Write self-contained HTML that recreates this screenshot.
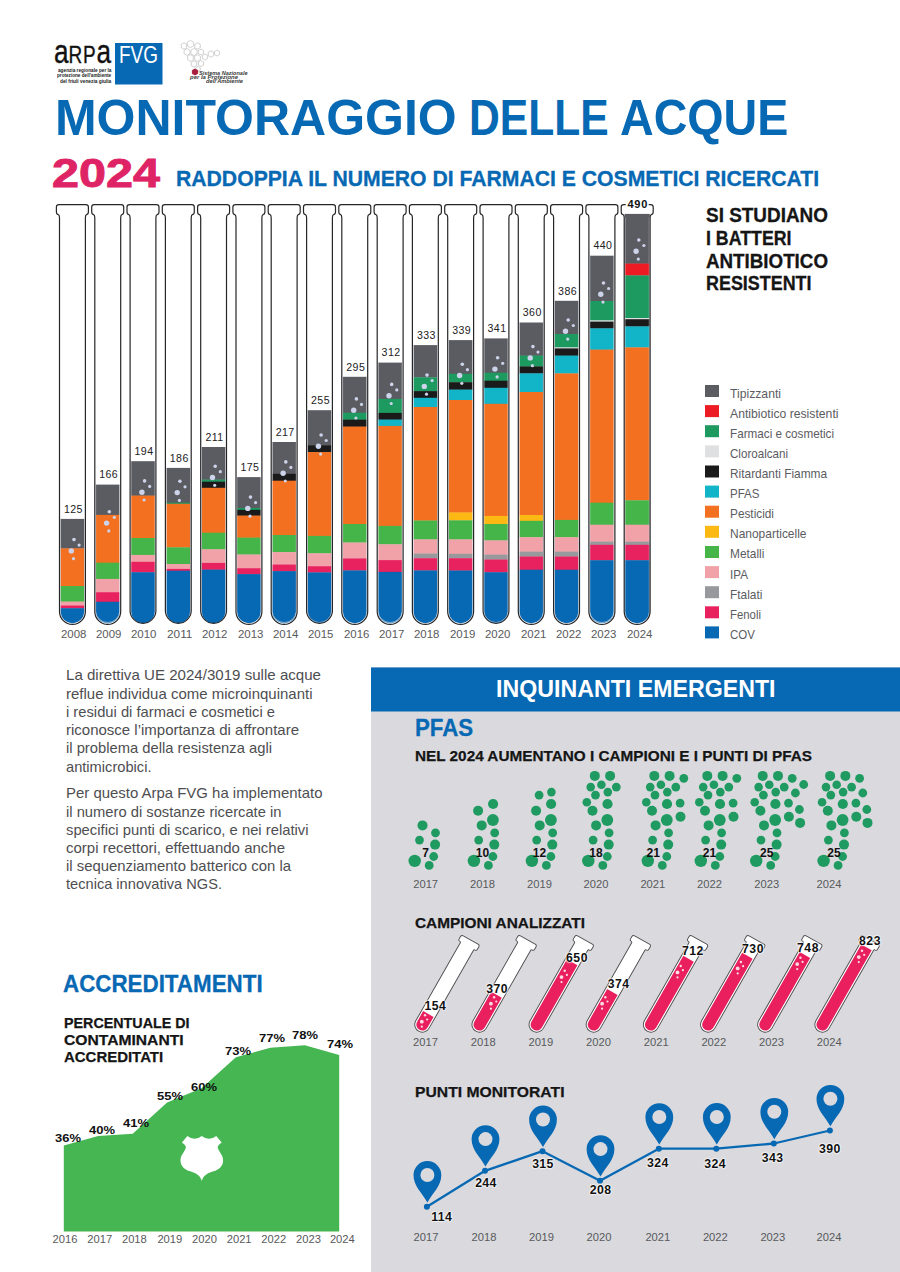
<!DOCTYPE html>
<html lang="it"><head><meta charset="utf-8"><title>Monitoraggio delle acque 2024</title>
<style>html,body{margin:0;padding:0;background:#fff}body{width:900px;height:1272px;position:relative;overflow:hidden;font-family:"Liberation Sans",sans-serif}#art{position:absolute;left:0;top:0}.t{position:absolute;white-space:nowrap;line-height:1;transform-origin:0 50%}.g{text-shadow:0 0 1.5px #fff,0 0 1.5px #fff,0 0 2px #fff,0 0 2.5px #fff}</style></head><body>
<svg id="art" width="900" height="1272" viewBox="0 0 900 1272">
<rect x="115" y="43" width="47.5" height="41.5" fill="#0768b3"/>
<polygon points="186.8,47.6 184.0,49.2 181.2,47.6 181.2,44.4 184.0,42.8 186.8,44.4" fill="none" stroke="#b4b4b4" stroke-width="0.6"/>
<polygon points="193.6,45.8 190.5,47.6 187.4,45.8 187.4,42.2 190.5,40.4 193.6,42.2" fill="none" stroke="#b4b4b4" stroke-width="0.6"/>
<polygon points="200.3,47.6 197.5,49.2 194.7,47.6 194.7,44.4 197.5,42.8 200.3,44.4" fill="none" stroke="#b4b4b4" stroke-width="0.6"/>
<polygon points="189.9,53.7 187.0,55.4 184.1,53.7 184.1,50.3 187.0,48.6 189.9,50.3" fill="none" stroke="#b4b4b4" stroke-width="0.6"/>
<polygon points="197.1,53.8 194.0,55.6 190.9,53.8 190.9,50.2 194.0,48.4 197.1,50.2" fill="none" stroke="#b4b4b4" stroke-width="0.6"/>
<polygon points="203.6,53.5 201.0,55.0 198.4,53.5 198.4,50.5 201.0,49.0 203.6,50.5" fill="none" stroke="#b4b4b4" stroke-width="0.6"/>
<polygon points="193.4,59.7 190.5,61.4 187.6,59.7 187.6,56.3 190.5,54.6 193.4,56.3" fill="none" stroke="#b4b4b4" stroke-width="0.6"/>
<polygon points="200.4,59.7 197.5,61.4 194.6,59.7 194.6,56.3 197.5,54.6 200.4,56.3" fill="none" stroke="#b4b4b4" stroke-width="0.6"/>
<polygon points="207.6,58.5 205.0,60.0 202.4,58.5 202.4,55.5 205.0,54.0 207.6,55.5" fill="none" stroke="#b4b4b4" stroke-width="0.6"/>
<polygon points="213.8,55.6 211.0,57.2 208.2,55.6 208.2,52.4 211.0,50.8 213.8,52.4" fill="none" stroke="#b4b4b4" stroke-width="0.6"/>
<polygon points="219.6,54.5 217.0,56.0 214.4,54.5 214.4,51.5 217.0,50.0 219.6,51.5" fill="none" stroke="#b4b4b4" stroke-width="0.6"/>
<polygon points="196.8,65.6 194.0,67.2 191.2,65.6 191.2,62.4 194.0,60.8 196.8,62.4" fill="none" stroke="#b4b4b4" stroke-width="0.6"/>
<polygon points="203.6,65.0 201.0,66.5 198.4,65.0 198.4,62.0 201.0,60.5 203.6,62.0" fill="none" stroke="#b4b4b4" stroke-width="0.6"/>
<polygon points="200.3,70.3 198.0,71.6 195.7,70.3 195.7,67.7 198.0,66.4 200.3,67.7" fill="none" stroke="#b4b4b4" stroke-width="0.6"/>
<polygon points="197.9,73.7 195.0,75.3 192.1,73.7 192.1,70.3 195.0,68.7 197.9,70.3" fill="#a81c3c" stroke="#a81c3c" stroke-width="0.3"/>
<defs>
<clipPath id="tc0"><path d="M60.5 200 V611.4 A11.9 11.9 0 0 0 84.3 611.4 V200 Z"/></clipPath>
<clipPath id="tc1"><path d="M95.8 200 V611.4 A11.9 11.9 0 0 0 119.6 611.4 V200 Z"/></clipPath>
<clipPath id="tc2"><path d="M131.1 200 V611.4 A11.9 11.9 0 0 0 154.9 611.4 V200 Z"/></clipPath>
<clipPath id="tc3"><path d="M166.4 200 V611.4 A11.9 11.9 0 0 0 190.2 611.4 V200 Z"/></clipPath>
<clipPath id="tc4"><path d="M201.7 200 V611.4 A11.9 11.9 0 0 0 225.5 611.4 V200 Z"/></clipPath>
<clipPath id="tc5"><path d="M237.0 200 V611.4 A11.9 11.9 0 0 0 260.8 611.4 V200 Z"/></clipPath>
<clipPath id="tc6"><path d="M272.3 200 V611.4 A11.9 11.9 0 0 0 296.1 611.4 V200 Z"/></clipPath>
<clipPath id="tc7"><path d="M307.6 200 V611.4 A11.9 11.9 0 0 0 331.4 611.4 V200 Z"/></clipPath>
<clipPath id="tc8"><path d="M342.9 200 V611.4 A11.9 11.9 0 0 0 366.7 611.4 V200 Z"/></clipPath>
<clipPath id="tc9"><path d="M378.2 200 V611.4 A11.9 11.9 0 0 0 402.0 611.4 V200 Z"/></clipPath>
<clipPath id="tc10"><path d="M413.5 200 V611.4 A11.9 11.9 0 0 0 437.3 611.4 V200 Z"/></clipPath>
<clipPath id="tc11"><path d="M448.8 200 V611.4 A11.9 11.9 0 0 0 472.6 611.4 V200 Z"/></clipPath>
<clipPath id="tc12"><path d="M484.1 200 V611.4 A11.9 11.9 0 0 0 507.9 611.4 V200 Z"/></clipPath>
<clipPath id="tc13"><path d="M519.4 200 V611.4 A11.9 11.9 0 0 0 543.2 611.4 V200 Z"/></clipPath>
<clipPath id="tc14"><path d="M554.7 200 V611.4 A11.9 11.9 0 0 0 578.5 611.4 V200 Z"/></clipPath>
<clipPath id="tc15"><path d="M590.0 200 V611.4 A11.9 11.9 0 0 0 613.8 611.4 V200 Z"/></clipPath>
<clipPath id="tc16"><path d="M624.6 200 V610.7 A12.6 12.6 0 0 0 649.8 610.7 V200 Z"/></clipPath>
</defs>
<g clip-path="url(#tc0)">
<rect x="59.5" y="518.9" width="25.8" height="29.8" fill="#5b5c61"/>
<rect x="59.5" y="548.4" width="25.8" height="37.9" fill="#f37021"/>
<rect x="59.5" y="586.0" width="25.8" height="15.9" fill="#45b549"/>
<rect x="59.5" y="601.6" width="25.8" height="4.2" fill="#f0a2a8"/>
<rect x="59.5" y="605.5" width="25.8" height="3.0" fill="#e8215f"/>
<rect x="59.5" y="608.2" width="25.8" height="16.4" fill="#0768b3"/>
</g>
<circle cx="74.0" cy="539.6" r="1.8" fill="#cdd3ea"/>
<circle cx="79.1" cy="545.1" r="1.6" fill="#cdd3ea"/>
<circle cx="71.3" cy="550.9" r="2.7" fill="#cdd3ea"/>
<circle cx="73.5" cy="558.7" r="1.6" fill="#cdd3ea"/>
<path d="M84.6 518.9 V611.5 A12.149999999999999 12.149999999999999 0 0 1 60.3 611.5 V518.9" fill="none" stroke="#e3e5ec" stroke-width="0.6"/>
<path d="M58.9 204.6 H85.9 Q88.4 204.6 88.4 207 V211.5 Q88.4 214.2 86.9 214.4 Q85.4 214.8 85.4 217.5 V611.5 A12.95 12.95 0 0 1 59.5 611.5 V217.5 Q59.5 214.8 57.9 214.4 Q56.4 214.2 56.4 211.5 V207 Q56.4 204.6 58.9 204.6 Z" fill="none" stroke="#262628" stroke-width="1.2"/>
<g clip-path="url(#tc1)">
<rect x="94.8" y="484.6" width="25.8" height="30.6" fill="#5b5c61"/>
<rect x="94.8" y="514.9" width="25.8" height="48.1" fill="#f37021"/>
<rect x="94.8" y="562.7" width="25.8" height="16.5" fill="#45b549"/>
<rect x="94.8" y="578.9" width="25.8" height="13.6" fill="#f0a2a8"/>
<rect x="94.8" y="592.2" width="25.8" height="9.9" fill="#e8215f"/>
<rect x="94.8" y="601.8" width="25.8" height="22.8" fill="#0768b3"/>
</g>
<circle cx="109.3" cy="511.8" r="1.8" fill="#cdd3ea"/>
<circle cx="114.4" cy="517.3" r="1.6" fill="#cdd3ea"/>
<circle cx="106.6" cy="523.1" r="2.7" fill="#cdd3ea"/>
<circle cx="108.8" cy="530.9" r="1.6" fill="#cdd3ea"/>
<path d="M119.8 484.6 V611.5 A12.149999999999999 12.149999999999999 0 0 1 95.6 611.5 V484.6" fill="none" stroke="#e3e5ec" stroke-width="0.6"/>
<path d="M94.2 204.6 H121.2 Q123.7 204.6 123.7 207 V211.5 Q123.7 214.2 122.2 214.4 Q120.7 214.8 120.7 217.5 V611.5 A12.95 12.95 0 0 1 94.8 611.5 V217.5 Q94.8 214.8 93.2 214.4 Q91.7 214.2 91.7 211.5 V207 Q91.7 204.6 94.2 204.6 Z" fill="none" stroke="#262628" stroke-width="1.2"/>
<g clip-path="url(#tc2)">
<rect x="130.1" y="461.2" width="25.8" height="34.7" fill="#5b5c61"/>
<rect x="130.1" y="495.6" width="25.8" height="42.7" fill="#f37021"/>
<rect x="130.1" y="538.0" width="25.8" height="17.2" fill="#45b549"/>
<rect x="130.1" y="554.9" width="25.8" height="7.2" fill="#f0a2a8"/>
<rect x="130.1" y="561.8" width="25.8" height="10.7" fill="#e8215f"/>
<rect x="130.1" y="572.2" width="25.8" height="52.4" fill="#0768b3"/>
</g>
<circle cx="144.6" cy="480.9" r="1.8" fill="#cdd3ea"/>
<circle cx="149.7" cy="486.4" r="1.6" fill="#cdd3ea"/>
<circle cx="141.9" cy="492.2" r="2.7" fill="#cdd3ea"/>
<circle cx="144.1" cy="500.0" r="1.6" fill="#cdd3ea"/>
<path d="M155.2 461.2 V611.5 A12.149999999999999 12.149999999999999 0 0 1 130.8 611.5 V461.2" fill="none" stroke="#e3e5ec" stroke-width="0.6"/>
<path d="M129.5 204.6 H156.5 Q159.0 204.6 159.0 207 V211.5 Q159.0 214.2 157.5 214.4 Q155.9 214.8 155.9 217.5 V611.5 A12.95 12.95 0 0 1 130.1 611.5 V217.5 Q130.1 214.8 128.5 214.4 Q127.0 214.2 127.0 211.5 V207 Q127.0 204.6 129.5 204.6 Z" fill="none" stroke="#262628" stroke-width="1.2"/>
<g clip-path="url(#tc3)">
<rect x="165.4" y="467.9" width="25.8" height="35.1" fill="#5b5c61"/>
<rect x="165.4" y="502.7" width="25.8" height="1.4" fill="#1d9a60"/>
<rect x="165.4" y="503.8" width="25.8" height="43.8" fill="#f37021"/>
<rect x="165.4" y="547.3" width="25.8" height="17.0" fill="#45b549"/>
<rect x="165.4" y="564.0" width="25.8" height="5.2" fill="#f0a2a8"/>
<rect x="165.4" y="568.9" width="25.8" height="2.1" fill="#e8215f"/>
<rect x="165.4" y="570.7" width="25.8" height="53.9" fill="#0768b3"/>
</g>
<circle cx="179.9" cy="481.3" r="1.8" fill="#cdd3ea"/>
<circle cx="185.0" cy="486.8" r="1.6" fill="#cdd3ea"/>
<circle cx="177.2" cy="492.6" r="2.7" fill="#cdd3ea"/>
<circle cx="179.4" cy="500.4" r="1.6" fill="#cdd3ea"/>
<path d="M190.5 467.9 V611.5 A12.149999999999999 12.149999999999999 0 0 1 166.2 611.5 V467.9" fill="none" stroke="#e3e5ec" stroke-width="0.6"/>
<path d="M164.8 204.6 H191.8 Q194.3 204.6 194.3 207 V211.5 Q194.3 214.2 192.8 214.4 Q191.2 214.8 191.2 217.5 V611.5 A12.95 12.95 0 0 1 165.4 611.5 V217.5 Q165.4 214.8 163.8 214.4 Q162.3 214.2 162.3 211.5 V207 Q162.3 204.6 164.8 204.6 Z" fill="none" stroke="#262628" stroke-width="1.2"/>
<g clip-path="url(#tc4)">
<rect x="200.7" y="447.0" width="25.8" height="32.9" fill="#5b5c61"/>
<rect x="200.7" y="479.6" width="25.8" height="2.3" fill="#1d9a60"/>
<rect x="200.7" y="481.6" width="25.8" height="6.5" fill="#1a1a1a"/>
<rect x="200.7" y="487.8" width="25.8" height="45.2" fill="#f37021"/>
<rect x="200.7" y="532.7" width="25.8" height="16.9" fill="#45b549"/>
<rect x="200.7" y="549.3" width="25.8" height="13.9" fill="#f0a2a8"/>
<rect x="200.7" y="562.9" width="25.8" height="7.0" fill="#e8215f"/>
<rect x="200.7" y="569.6" width="25.8" height="55.0" fill="#0768b3"/>
</g>
<circle cx="215.2" cy="466.2" r="1.8" fill="#cdd3ea"/>
<circle cx="220.3" cy="471.7" r="1.6" fill="#cdd3ea"/>
<circle cx="212.5" cy="477.5" r="2.7" fill="#cdd3ea"/>
<circle cx="214.7" cy="485.3" r="1.6" fill="#cdd3ea"/>
<path d="M225.8 447.0 V611.5 A12.149999999999999 12.149999999999999 0 0 1 201.4 611.5 V447.0" fill="none" stroke="#e3e5ec" stroke-width="0.6"/>
<path d="M200.1 204.6 H227.1 Q229.6 204.6 229.6 207 V211.5 Q229.6 214.2 228.1 214.4 Q226.5 214.8 226.5 217.5 V611.5 A12.95 12.95 0 0 1 200.7 611.5 V217.5 Q200.7 214.8 199.1 214.4 Q197.6 214.2 197.6 211.5 V207 Q197.6 204.6 200.1 204.6 Z" fill="none" stroke="#262628" stroke-width="1.2"/>
<g clip-path="url(#tc5)">
<rect x="236.0" y="477.1" width="25.8" height="31.2" fill="#5b5c61"/>
<rect x="236.0" y="508.0" width="25.8" height="2.1" fill="#1d9a60"/>
<rect x="236.0" y="509.8" width="25.8" height="6.1" fill="#1a1a1a"/>
<rect x="236.0" y="515.6" width="25.8" height="22.3" fill="#f37021"/>
<rect x="236.0" y="537.6" width="25.8" height="17.2" fill="#45b549"/>
<rect x="236.0" y="554.5" width="25.8" height="14.0" fill="#f0a2a8"/>
<rect x="236.0" y="568.2" width="25.8" height="6.2" fill="#e8215f"/>
<rect x="236.0" y="574.1" width="25.8" height="50.5" fill="#0768b3"/>
</g>
<circle cx="250.5" cy="497.1" r="1.8" fill="#cdd3ea"/>
<circle cx="255.6" cy="502.6" r="1.6" fill="#cdd3ea"/>
<circle cx="247.8" cy="508.4" r="2.7" fill="#cdd3ea"/>
<circle cx="250.0" cy="516.2" r="1.6" fill="#cdd3ea"/>
<path d="M261.1 477.1 V611.5 A12.149999999999999 12.149999999999999 0 0 1 236.8 611.5 V477.1" fill="none" stroke="#e3e5ec" stroke-width="0.6"/>
<path d="M235.4 204.6 H262.4 Q264.9 204.6 264.9 207 V211.5 Q264.9 214.2 263.4 214.4 Q261.9 214.8 261.9 217.5 V611.5 A12.95 12.95 0 0 1 236.0 611.5 V217.5 Q236.0 214.8 234.4 214.4 Q232.9 214.2 232.9 211.5 V207 Q232.9 204.6 235.4 204.6 Z" fill="none" stroke="#262628" stroke-width="1.2"/>
<g clip-path="url(#tc6)">
<rect x="271.3" y="442.0" width="25.8" height="32.1" fill="#5b5c61"/>
<rect x="271.3" y="473.8" width="25.8" height="7.2" fill="#1a1a1a"/>
<rect x="271.3" y="480.7" width="25.8" height="54.6" fill="#f37021"/>
<rect x="271.3" y="535.0" width="25.8" height="17.4" fill="#45b549"/>
<rect x="271.3" y="552.1" width="25.8" height="12.7" fill="#f0a2a8"/>
<rect x="271.3" y="564.5" width="25.8" height="6.9" fill="#e8215f"/>
<rect x="271.3" y="571.1" width="25.8" height="53.5" fill="#0768b3"/>
</g>
<circle cx="285.8" cy="461.9" r="1.8" fill="#cdd3ea"/>
<circle cx="290.9" cy="467.4" r="1.6" fill="#cdd3ea"/>
<circle cx="283.1" cy="473.2" r="2.7" fill="#cdd3ea"/>
<circle cx="285.3" cy="481.0" r="1.6" fill="#cdd3ea"/>
<path d="M296.3 442.0 V611.5 A12.149999999999999 12.149999999999999 0 0 1 272.1 611.5 V442.0" fill="none" stroke="#e3e5ec" stroke-width="0.6"/>
<path d="M270.7 204.6 H297.7 Q300.2 204.6 300.2 207 V211.5 Q300.2 214.2 298.7 214.4 Q297.1 214.8 297.1 217.5 V611.5 A12.95 12.95 0 0 1 271.2 611.5 V217.5 Q271.2 214.8 269.7 214.4 Q268.2 214.2 268.2 211.5 V207 Q268.2 204.6 270.7 204.6 Z" fill="none" stroke="#262628" stroke-width="1.2"/>
<g clip-path="url(#tc7)">
<rect x="306.6" y="410.2" width="25.8" height="35.3" fill="#5b5c61"/>
<rect x="306.6" y="445.2" width="25.8" height="7.2" fill="#1a1a1a"/>
<rect x="306.6" y="452.1" width="25.8" height="84.1" fill="#f37021"/>
<rect x="306.6" y="535.9" width="25.8" height="17.7" fill="#45b549"/>
<rect x="306.6" y="553.3" width="25.8" height="13.2" fill="#f0a2a8"/>
<rect x="306.6" y="566.2" width="25.8" height="6.5" fill="#e8215f"/>
<rect x="306.6" y="572.4" width="25.8" height="52.2" fill="#0768b3"/>
</g>
<circle cx="321.1" cy="435.0" r="1.8" fill="#cdd3ea"/>
<circle cx="326.2" cy="440.5" r="1.6" fill="#cdd3ea"/>
<circle cx="318.4" cy="446.3" r="2.7" fill="#cdd3ea"/>
<circle cx="320.6" cy="454.1" r="1.6" fill="#cdd3ea"/>
<path d="M331.6 410.2 V611.5 A12.149999999999999 12.149999999999999 0 0 1 307.4 611.5 V410.2" fill="none" stroke="#e3e5ec" stroke-width="0.6"/>
<path d="M306.0 204.6 H333.0 Q335.5 204.6 335.5 207 V211.5 Q335.5 214.2 334.0 214.4 Q332.4 214.8 332.4 217.5 V611.5 A12.95 12.95 0 0 1 306.6 611.5 V217.5 Q306.6 214.8 305.0 214.4 Q303.5 214.2 303.5 211.5 V207 Q303.5 204.6 306.0 204.6 Z" fill="none" stroke="#262628" stroke-width="1.2"/>
<g clip-path="url(#tc8)">
<rect x="341.9" y="376.8" width="25.8" height="36.2" fill="#5b5c61"/>
<rect x="341.9" y="412.7" width="25.8" height="7.2" fill="#1d9a60"/>
<rect x="341.9" y="419.6" width="25.8" height="7.3" fill="#1a1a1a"/>
<rect x="341.9" y="426.6" width="25.8" height="97.7" fill="#f37021"/>
<rect x="341.9" y="524.0" width="25.8" height="18.8" fill="#45b549"/>
<rect x="341.9" y="542.5" width="25.8" height="16.2" fill="#f0a2a8"/>
<rect x="341.9" y="558.4" width="25.8" height="12.3" fill="#e8215f"/>
<rect x="341.9" y="570.4" width="25.8" height="54.2" fill="#0768b3"/>
</g>
<circle cx="356.4" cy="398.9" r="1.8" fill="#cdd3ea"/>
<circle cx="361.5" cy="404.4" r="1.6" fill="#cdd3ea"/>
<circle cx="353.7" cy="410.2" r="2.7" fill="#cdd3ea"/>
<circle cx="355.9" cy="418.0" r="1.6" fill="#cdd3ea"/>
<path d="M366.9 376.8 V611.5 A12.149999999999999 12.149999999999999 0 0 1 342.6 611.5 V376.8" fill="none" stroke="#e3e5ec" stroke-width="0.6"/>
<path d="M341.3 204.6 H368.3 Q370.8 204.6 370.8 207 V211.5 Q370.8 214.2 369.3 214.4 Q367.7 214.8 367.7 217.5 V611.5 A12.95 12.95 0 0 1 341.8 611.5 V217.5 Q341.8 214.8 340.3 214.4 Q338.8 214.2 338.8 211.5 V207 Q338.8 204.6 341.3 204.6 Z" fill="none" stroke="#262628" stroke-width="1.2"/>
<g clip-path="url(#tc9)">
<rect x="377.2" y="362.6" width="25.8" height="36.6" fill="#5b5c61"/>
<rect x="377.2" y="398.9" width="25.8" height="14.3" fill="#1d9a60"/>
<rect x="377.2" y="412.9" width="25.8" height="7.0" fill="#1a1a1a"/>
<rect x="377.2" y="419.6" width="25.8" height="6.6" fill="#12b4c8"/>
<rect x="377.2" y="425.9" width="25.8" height="100.3" fill="#f37021"/>
<rect x="377.2" y="525.9" width="25.8" height="18.7" fill="#45b549"/>
<rect x="377.2" y="544.3" width="25.8" height="16.1" fill="#f0a2a8"/>
<rect x="377.2" y="560.1" width="25.8" height="12.1" fill="#e8215f"/>
<rect x="377.2" y="571.9" width="25.8" height="52.7" fill="#0768b3"/>
</g>
<circle cx="391.7" cy="384.4" r="1.8" fill="#cdd3ea"/>
<circle cx="396.8" cy="389.9" r="1.6" fill="#cdd3ea"/>
<circle cx="389.0" cy="395.7" r="2.7" fill="#cdd3ea"/>
<circle cx="391.2" cy="403.5" r="1.6" fill="#cdd3ea"/>
<path d="M402.2 362.6 V611.5 A12.149999999999999 12.149999999999999 0 0 1 378.0 611.5 V362.6" fill="none" stroke="#e3e5ec" stroke-width="0.6"/>
<path d="M376.6 204.6 H403.6 Q406.1 204.6 406.1 207 V211.5 Q406.1 214.2 404.6 214.4 Q403.1 214.8 403.1 217.5 V611.5 A12.95 12.95 0 0 1 377.2 611.5 V217.5 Q377.2 214.8 375.6 214.4 Q374.1 214.2 374.1 211.5 V207 Q374.1 204.6 376.6 204.6 Z" fill="none" stroke="#262628" stroke-width="1.2"/>
<g clip-path="url(#tc10)">
<rect x="412.5" y="345.1" width="25.8" height="32.5" fill="#5b5c61"/>
<rect x="412.5" y="377.3" width="25.8" height="14.1" fill="#1d9a60"/>
<rect x="412.5" y="391.1" width="25.8" height="7.0" fill="#1a1a1a"/>
<rect x="412.5" y="397.8" width="25.8" height="9.5" fill="#12b4c8"/>
<rect x="412.5" y="407.0" width="25.8" height="113.8" fill="#f37021"/>
<rect x="412.5" y="520.5" width="25.8" height="19.2" fill="#45b549"/>
<rect x="412.5" y="539.4" width="25.8" height="14.4" fill="#f0a2a8"/>
<rect x="412.5" y="553.5" width="25.8" height="5.0" fill="#98999c"/>
<rect x="412.5" y="558.2" width="25.8" height="12.5" fill="#e8215f"/>
<rect x="412.5" y="570.4" width="25.8" height="54.2" fill="#0768b3"/>
</g>
<circle cx="427.0" cy="375.1" r="1.8" fill="#cdd3ea"/>
<circle cx="432.1" cy="380.6" r="1.6" fill="#cdd3ea"/>
<circle cx="424.3" cy="386.4" r="2.7" fill="#cdd3ea"/>
<circle cx="426.5" cy="394.2" r="1.6" fill="#cdd3ea"/>
<path d="M437.5 345.1 V611.5 A12.149999999999999 12.149999999999999 0 0 1 413.2 611.5 V345.1" fill="none" stroke="#e3e5ec" stroke-width="0.6"/>
<path d="M411.9 204.6 H438.9 Q441.4 204.6 441.4 207 V211.5 Q441.4 214.2 439.9 214.4 Q438.3 214.8 438.3 217.5 V611.5 A12.95 12.95 0 0 1 412.4 611.5 V217.5 Q412.4 214.8 410.9 214.4 Q409.4 214.2 409.4 211.5 V207 Q409.4 204.6 411.9 204.6 Z" fill="none" stroke="#262628" stroke-width="1.2"/>
<g clip-path="url(#tc11)">
<rect x="447.8" y="340.1" width="25.8" height="34.0" fill="#5b5c61"/>
<rect x="447.8" y="373.8" width="25.8" height="8.7" fill="#1d9a60"/>
<rect x="447.8" y="382.2" width="25.8" height="7.7" fill="#1a1a1a"/>
<rect x="447.8" y="389.6" width="25.8" height="10.7" fill="#12b4c8"/>
<rect x="447.8" y="400.0" width="25.8" height="112.8" fill="#f37021"/>
<rect x="447.8" y="512.5" width="25.8" height="8.1" fill="#fdb913"/>
<rect x="447.8" y="520.3" width="25.8" height="19.4" fill="#45b549"/>
<rect x="447.8" y="539.4" width="25.8" height="14.7" fill="#f0a2a8"/>
<rect x="447.8" y="553.8" width="25.8" height="4.7" fill="#98999c"/>
<rect x="447.8" y="558.2" width="25.8" height="12.6" fill="#e8215f"/>
<rect x="447.8" y="570.5" width="25.8" height="54.1" fill="#0768b3"/>
</g>
<circle cx="462.3" cy="364.2" r="1.8" fill="#cdd3ea"/>
<circle cx="467.4" cy="369.7" r="1.6" fill="#cdd3ea"/>
<circle cx="459.6" cy="375.5" r="2.7" fill="#cdd3ea"/>
<circle cx="461.8" cy="383.3" r="1.6" fill="#cdd3ea"/>
<path d="M472.8 340.1 V611.5 A12.149999999999999 12.149999999999999 0 0 1 448.5 611.5 V340.1" fill="none" stroke="#e3e5ec" stroke-width="0.6"/>
<path d="M447.2 204.6 H474.2 Q476.7 204.6 476.7 207 V211.5 Q476.7 214.2 475.2 214.4 Q473.6 214.8 473.6 217.5 V611.5 A12.95 12.95 0 0 1 447.7 611.5 V217.5 Q447.7 214.8 446.2 214.4 Q444.7 214.2 444.7 211.5 V207 Q444.7 204.6 447.2 204.6 Z" fill="none" stroke="#262628" stroke-width="1.2"/>
<g clip-path="url(#tc12)">
<rect x="483.1" y="338.4" width="25.8" height="34.6" fill="#5b5c61"/>
<rect x="483.1" y="372.7" width="25.8" height="8.3" fill="#1d9a60"/>
<rect x="483.1" y="380.7" width="25.8" height="7.4" fill="#1a1a1a"/>
<rect x="483.1" y="387.8" width="25.8" height="16.3" fill="#12b4c8"/>
<rect x="483.1" y="403.8" width="25.8" height="112.4" fill="#f37021"/>
<rect x="483.1" y="515.9" width="25.8" height="8.4" fill="#fdb913"/>
<rect x="483.1" y="524.0" width="25.8" height="16.7" fill="#45b549"/>
<rect x="483.1" y="540.4" width="25.8" height="14.5" fill="#f0a2a8"/>
<rect x="483.1" y="554.6" width="25.8" height="5.2" fill="#98999c"/>
<rect x="483.1" y="559.5" width="25.8" height="13.0" fill="#e8215f"/>
<rect x="483.1" y="572.2" width="25.8" height="52.4" fill="#0768b3"/>
</g>
<circle cx="497.6" cy="357.8" r="1.8" fill="#cdd3ea"/>
<circle cx="502.7" cy="363.3" r="1.6" fill="#cdd3ea"/>
<circle cx="494.9" cy="369.1" r="2.7" fill="#cdd3ea"/>
<circle cx="497.1" cy="376.9" r="1.6" fill="#cdd3ea"/>
<path d="M508.1 338.4 V611.5 A12.149999999999999 12.149999999999999 0 0 1 483.9 611.5 V338.4" fill="none" stroke="#e3e5ec" stroke-width="0.6"/>
<path d="M482.5 204.6 H509.5 Q512.0 204.6 512.0 207 V211.5 Q512.0 214.2 510.5 214.4 Q508.9 214.8 508.9 217.5 V611.5 A12.95 12.95 0 0 1 483.1 611.5 V217.5 Q483.1 214.8 481.5 214.4 Q480.0 214.2 480.0 211.5 V207 Q480.0 204.6 482.5 204.6 Z" fill="none" stroke="#262628" stroke-width="1.2"/>
<g clip-path="url(#tc13)">
<rect x="518.4" y="322.5" width="25.8" height="33.4" fill="#5b5c61"/>
<rect x="518.4" y="355.6" width="25.8" height="11.1" fill="#1d9a60"/>
<rect x="518.4" y="366.4" width="25.8" height="7.3" fill="#1a1a1a"/>
<rect x="518.4" y="373.4" width="25.8" height="18.9" fill="#12b4c8"/>
<rect x="518.4" y="392.0" width="25.8" height="123.3" fill="#f37021"/>
<rect x="518.4" y="515.0" width="25.8" height="6.1" fill="#fdb913"/>
<rect x="518.4" y="520.8" width="25.8" height="16.7" fill="#45b549"/>
<rect x="518.4" y="537.2" width="25.8" height="14.7" fill="#f0a2a8"/>
<rect x="518.4" y="551.6" width="25.8" height="5.2" fill="#98999c"/>
<rect x="518.4" y="556.5" width="25.8" height="13.5" fill="#e8215f"/>
<rect x="518.4" y="569.7" width="25.8" height="54.9" fill="#0768b3"/>
</g>
<circle cx="532.9" cy="346.6" r="1.8" fill="#cdd3ea"/>
<circle cx="538.0" cy="352.1" r="1.6" fill="#cdd3ea"/>
<circle cx="530.2" cy="357.9" r="2.7" fill="#cdd3ea"/>
<circle cx="532.4" cy="365.7" r="1.6" fill="#cdd3ea"/>
<path d="M543.4 322.5 V611.5 A12.149999999999999 12.149999999999999 0 0 1 519.1 611.5 V322.5" fill="none" stroke="#e3e5ec" stroke-width="0.6"/>
<path d="M517.8 204.6 H544.8 Q547.3 204.6 547.3 207 V211.5 Q547.3 214.2 545.8 214.4 Q544.2 214.8 544.2 217.5 V611.5 A12.95 12.95 0 0 1 518.3 611.5 V217.5 Q518.3 214.8 516.8 214.4 Q515.3 214.2 515.3 211.5 V207 Q515.3 204.6 517.8 204.6 Z" fill="none" stroke="#262628" stroke-width="1.2"/>
<g clip-path="url(#tc14)">
<rect x="553.7" y="300.8" width="25.8" height="33.5" fill="#5b5c61"/>
<rect x="553.7" y="334.0" width="25.8" height="13.7" fill="#1d9a60"/>
<rect x="553.7" y="347.4" width="25.8" height="1.3" fill="#dfe0e1"/>
<rect x="553.7" y="348.4" width="25.8" height="7.5" fill="#1a1a1a"/>
<rect x="553.7" y="355.6" width="25.8" height="18.1" fill="#12b4c8"/>
<rect x="553.7" y="373.4" width="25.8" height="146.8" fill="#f37021"/>
<rect x="553.7" y="519.9" width="25.8" height="17.6" fill="#45b549"/>
<rect x="553.7" y="537.2" width="25.8" height="14.7" fill="#f0a2a8"/>
<rect x="553.7" y="551.6" width="25.8" height="5.2" fill="#98999c"/>
<rect x="553.7" y="556.5" width="25.8" height="13.5" fill="#e8215f"/>
<rect x="553.7" y="569.7" width="25.8" height="54.9" fill="#0768b3"/>
</g>
<circle cx="568.2" cy="320.0" r="1.8" fill="#cdd3ea"/>
<circle cx="573.3" cy="325.5" r="1.6" fill="#cdd3ea"/>
<circle cx="565.5" cy="331.3" r="2.7" fill="#cdd3ea"/>
<circle cx="567.7" cy="339.1" r="1.6" fill="#cdd3ea"/>
<path d="M578.7 300.8 V611.5 A12.149999999999999 12.149999999999999 0 0 1 554.4 611.5 V300.8" fill="none" stroke="#e3e5ec" stroke-width="0.6"/>
<path d="M553.1 204.6 H580.1 Q582.6 204.6 582.6 207 V211.5 Q582.6 214.2 581.1 214.4 Q579.5 214.8 579.5 217.5 V611.5 A12.95 12.95 0 0 1 553.6 611.5 V217.5 Q553.6 214.8 552.1 214.4 Q550.6 214.2 550.6 211.5 V207 Q550.6 204.6 553.1 204.6 Z" fill="none" stroke="#262628" stroke-width="1.2"/>
<g clip-path="url(#tc15)">
<rect x="589.0" y="255.7" width="25.8" height="45.6" fill="#5b5c61"/>
<rect x="589.0" y="301.0" width="25.8" height="19.7" fill="#1d9a60"/>
<rect x="589.0" y="320.4" width="25.8" height="1.5" fill="#dfe0e1"/>
<rect x="589.0" y="321.6" width="25.8" height="7.1" fill="#1a1a1a"/>
<rect x="589.0" y="328.4" width="25.8" height="21.5" fill="#12b4c8"/>
<rect x="589.0" y="349.6" width="25.8" height="153.4" fill="#f37021"/>
<rect x="589.0" y="502.7" width="25.8" height="22.3" fill="#45b549"/>
<rect x="589.0" y="524.7" width="25.8" height="17.2" fill="#f0a2a8"/>
<rect x="589.0" y="541.6" width="25.8" height="3.5" fill="#98999c"/>
<rect x="589.0" y="544.8" width="25.8" height="15.7" fill="#e8215f"/>
<rect x="589.0" y="560.2" width="25.8" height="64.4" fill="#0768b3"/>
</g>
<circle cx="603.5" cy="283.0" r="1.8" fill="#cdd3ea"/>
<circle cx="608.6" cy="288.5" r="1.6" fill="#cdd3ea"/>
<circle cx="600.8" cy="294.3" r="2.7" fill="#cdd3ea"/>
<circle cx="603.0" cy="302.1" r="1.6" fill="#cdd3ea"/>
<path d="M614.0 255.7 V611.5 A12.149999999999999 12.149999999999999 0 0 1 589.8 611.5 V255.7" fill="none" stroke="#e3e5ec" stroke-width="0.6"/>
<path d="M588.4 204.6 H615.4 Q617.9 204.6 617.9 207 V211.5 Q617.9 214.2 616.4 214.4 Q614.9 214.8 614.9 217.5 V611.5 A12.95 12.95 0 0 1 588.9 611.5 V217.5 Q588.9 214.8 587.4 214.4 Q585.9 214.2 585.9 211.5 V207 Q585.9 204.6 588.4 204.6 Z" fill="none" stroke="#262628" stroke-width="1.2"/>
<g clip-path="url(#tc16)">
<rect x="623.6" y="213.9" width="27.2" height="50.0" fill="#5b5c61"/>
<rect x="623.6" y="263.6" width="27.2" height="12.1" fill="#ed1c24"/>
<rect x="623.6" y="275.4" width="27.2" height="42.9" fill="#1d9a60"/>
<rect x="623.6" y="318.0" width="27.2" height="1.5" fill="#dfe0e1"/>
<rect x="623.6" y="319.2" width="27.2" height="7.5" fill="#1a1a1a"/>
<rect x="623.6" y="326.4" width="27.2" height="21.3" fill="#12b4c8"/>
<rect x="623.6" y="347.4" width="27.2" height="153.2" fill="#f37021"/>
<rect x="623.6" y="500.3" width="27.2" height="24.7" fill="#45b549"/>
<rect x="623.6" y="524.7" width="27.2" height="17.2" fill="#f0a2a8"/>
<rect x="623.6" y="541.6" width="27.2" height="3.5" fill="#98999c"/>
<rect x="623.6" y="544.8" width="27.2" height="15.7" fill="#e8215f"/>
<rect x="623.6" y="560.2" width="27.2" height="64.4" fill="#0768b3"/>
</g>
<circle cx="638.8" cy="240.0" r="1.8" fill="#cdd3ea"/>
<circle cx="643.9" cy="245.5" r="1.6" fill="#cdd3ea"/>
<circle cx="636.1" cy="251.3" r="2.7" fill="#cdd3ea"/>
<circle cx="638.3" cy="259.1" r="1.6" fill="#cdd3ea"/>
<path d="M649.3 217.5 V611.5 A12.149999999999999 12.149999999999999 0 0 1 625.0 611.5 V217.5" fill="none" stroke="#e3e5ec" stroke-width="0.6"/>
<path d="M623.7 204.6 H650.7 Q653.2 204.6 653.2 207 V211.5 Q653.2 214.2 651.7 214.4 Q650.1 214.8 650.1 217.5 V611.5 A12.95 12.95 0 0 1 624.2 611.5 V217.5 Q624.2 214.8 622.7 214.4 Q621.2 214.2 621.2 211.5 V207 Q621.2 204.6 623.7 204.6 Z" fill="none" stroke="#262628" stroke-width="1.2"/>
<rect x="625.7" y="199" width="23" height="10" fill="#fff"/>
<rect x="705" y="385.0" width="14" height="12" fill="#5b5c61"/>
<rect x="705" y="405.1" width="14" height="12" fill="#ed1c24"/>
<rect x="705" y="425.2" width="14" height="12" fill="#1d9a60"/>
<rect x="705" y="445.4" width="14" height="12" fill="#dfe0e1"/>
<rect x="705" y="465.5" width="14" height="12" fill="#1a1a1a"/>
<rect x="705" y="485.6" width="14" height="12" fill="#12b4c8"/>
<rect x="705" y="505.7" width="14" height="12" fill="#f37021"/>
<rect x="705" y="525.8" width="14" height="12" fill="#fdb913"/>
<rect x="705" y="546.0" width="14" height="12" fill="#45b549"/>
<rect x="705" y="566.1" width="14" height="12" fill="#f0a2a8"/>
<rect x="705" y="586.2" width="14" height="12" fill="#98999c"/>
<rect x="705" y="606.3" width="14" height="12" fill="#e8215f"/>
<rect x="705" y="626.4" width="14" height="12" fill="#0768b3"/>
<rect x="371" y="667" width="529" height="605" fill="#d9d9de"/>
<rect x="371" y="667.5" width="529" height="44" fill="#0768b3"/>
<circle cx="414.7" cy="860.9" r="6.2" fill="#1f9b61"/>
<circle cx="429.2" cy="865.4" r="4.4" fill="#1f9b61"/>
<circle cx="433.7" cy="856.5" r="4.4" fill="#1f9b61"/>
<circle cx="435.1" cy="844.6" r="5" fill="#1f9b61"/>
<circle cx="419.5" cy="840.1" r="4.4" fill="#1f9b61"/>
<circle cx="435.5" cy="832.8" r="4.4" fill="#1f9b61"/>
<circle cx="422.5" cy="825.4" r="5" fill="#1f9b61"/>
<circle cx="473.9" cy="860.9" r="6.2" fill="#1f9b61"/>
<circle cx="488.4" cy="865.4" r="4.4" fill="#1f9b61"/>
<circle cx="492.9" cy="856.5" r="4.4" fill="#1f9b61"/>
<circle cx="494.3" cy="844.6" r="5" fill="#1f9b61"/>
<circle cx="478.7" cy="840.1" r="4.4" fill="#1f9b61"/>
<circle cx="494.7" cy="832.8" r="4.4" fill="#1f9b61"/>
<circle cx="481.7" cy="825.4" r="5" fill="#1f9b61"/>
<circle cx="492.9" cy="820.0" r="5.9" fill="#1f9b61"/>
<circle cx="478.1" cy="810.8" r="5" fill="#1f9b61"/>
<circle cx="493.1" cy="804.0" r="5.1" fill="#1f9b61"/>
<circle cx="531.9" cy="860.9" r="6.2" fill="#1f9b61"/>
<circle cx="546.4" cy="865.4" r="4.4" fill="#1f9b61"/>
<circle cx="550.9" cy="856.5" r="4.4" fill="#1f9b61"/>
<circle cx="552.3" cy="844.6" r="5" fill="#1f9b61"/>
<circle cx="536.7" cy="840.1" r="4.4" fill="#1f9b61"/>
<circle cx="552.7" cy="832.8" r="4.4" fill="#1f9b61"/>
<circle cx="539.7" cy="825.4" r="5" fill="#1f9b61"/>
<circle cx="550.9" cy="820.0" r="5.9" fill="#1f9b61"/>
<circle cx="536.1" cy="810.8" r="5" fill="#1f9b61"/>
<circle cx="551.1" cy="804.0" r="5.1" fill="#1f9b61"/>
<circle cx="539.1" cy="795.1" r="4.4" fill="#1f9b61"/>
<circle cx="551.4" cy="792.1" r="4.3" fill="#1f9b61"/>
<circle cx="588.3" cy="860.9" r="6.2" fill="#1f9b61"/>
<circle cx="602.8" cy="865.4" r="4.4" fill="#1f9b61"/>
<circle cx="607.3" cy="856.5" r="4.4" fill="#1f9b61"/>
<circle cx="608.7" cy="844.6" r="5" fill="#1f9b61"/>
<circle cx="593.1" cy="840.1" r="4.4" fill="#1f9b61"/>
<circle cx="609.1" cy="832.8" r="4.4" fill="#1f9b61"/>
<circle cx="596.1" cy="825.4" r="5" fill="#1f9b61"/>
<circle cx="607.3" cy="820.0" r="5.9" fill="#1f9b61"/>
<circle cx="592.5" cy="810.8" r="5" fill="#1f9b61"/>
<circle cx="607.5" cy="804.0" r="5.1" fill="#1f9b61"/>
<circle cx="586.8" cy="802.3" r="4.3" fill="#1f9b61"/>
<circle cx="595.5" cy="795.1" r="4.4" fill="#1f9b61"/>
<circle cx="607.8" cy="792.1" r="4.3" fill="#1f9b61"/>
<circle cx="590.7" cy="787.1" r="4.3" fill="#1f9b61"/>
<circle cx="601.4" cy="784.8" r="4.3" fill="#1f9b61"/>
<circle cx="616.3" cy="787.1" r="4.4" fill="#1f9b61"/>
<circle cx="594.8" cy="775.9" r="5" fill="#1f9b61"/>
<circle cx="610.1" cy="775.9" r="5" fill="#1f9b61"/>
<circle cx="647.8" cy="860.9" r="6.2" fill="#1f9b61"/>
<circle cx="662.3" cy="865.4" r="4.4" fill="#1f9b61"/>
<circle cx="666.8" cy="856.5" r="4.4" fill="#1f9b61"/>
<circle cx="668.2" cy="844.6" r="5" fill="#1f9b61"/>
<circle cx="652.6" cy="840.1" r="4.4" fill="#1f9b61"/>
<circle cx="668.6" cy="832.8" r="4.4" fill="#1f9b61"/>
<circle cx="655.6" cy="825.4" r="5" fill="#1f9b61"/>
<circle cx="666.8" cy="820.0" r="5.9" fill="#1f9b61"/>
<circle cx="652.0" cy="810.8" r="5" fill="#1f9b61"/>
<circle cx="667.0" cy="804.0" r="5.1" fill="#1f9b61"/>
<circle cx="646.3" cy="802.3" r="4.3" fill="#1f9b61"/>
<circle cx="655.0" cy="795.1" r="4.4" fill="#1f9b61"/>
<circle cx="667.3" cy="792.1" r="4.3" fill="#1f9b61"/>
<circle cx="650.2" cy="787.1" r="4.3" fill="#1f9b61"/>
<circle cx="660.9" cy="784.8" r="4.3" fill="#1f9b61"/>
<circle cx="675.8" cy="787.1" r="4.4" fill="#1f9b61"/>
<circle cx="654.3" cy="775.9" r="5" fill="#1f9b61"/>
<circle cx="669.6" cy="775.9" r="5" fill="#1f9b61"/>
<circle cx="683.8" cy="778.3" r="4.4" fill="#1f9b61"/>
<circle cx="680.1" cy="803.1" r="4.4" fill="#1f9b61"/>
<circle cx="680.5" cy="816.8" r="5" fill="#1f9b61"/>
<circle cx="700.8" cy="860.9" r="6.2" fill="#1f9b61"/>
<circle cx="715.3" cy="865.4" r="4.4" fill="#1f9b61"/>
<circle cx="719.8" cy="856.5" r="4.4" fill="#1f9b61"/>
<circle cx="721.2" cy="844.6" r="5" fill="#1f9b61"/>
<circle cx="705.6" cy="840.1" r="4.4" fill="#1f9b61"/>
<circle cx="721.6" cy="832.8" r="4.4" fill="#1f9b61"/>
<circle cx="708.6" cy="825.4" r="5" fill="#1f9b61"/>
<circle cx="719.8" cy="820.0" r="5.9" fill="#1f9b61"/>
<circle cx="705.0" cy="810.8" r="5" fill="#1f9b61"/>
<circle cx="720.0" cy="804.0" r="5.1" fill="#1f9b61"/>
<circle cx="699.3" cy="802.3" r="4.3" fill="#1f9b61"/>
<circle cx="708.0" cy="795.1" r="4.4" fill="#1f9b61"/>
<circle cx="720.3" cy="792.1" r="4.3" fill="#1f9b61"/>
<circle cx="703.2" cy="787.1" r="4.3" fill="#1f9b61"/>
<circle cx="713.9" cy="784.8" r="4.3" fill="#1f9b61"/>
<circle cx="728.8" cy="787.1" r="4.4" fill="#1f9b61"/>
<circle cx="707.3" cy="775.9" r="5" fill="#1f9b61"/>
<circle cx="722.6" cy="775.9" r="5" fill="#1f9b61"/>
<circle cx="736.8" cy="778.3" r="4.4" fill="#1f9b61"/>
<circle cx="733.1" cy="803.1" r="4.4" fill="#1f9b61"/>
<circle cx="733.5" cy="816.8" r="5" fill="#1f9b61"/>
<circle cx="756.2" cy="860.9" r="6.2" fill="#1f9b61"/>
<circle cx="770.7" cy="865.4" r="4.4" fill="#1f9b61"/>
<circle cx="775.2" cy="856.5" r="4.4" fill="#1f9b61"/>
<circle cx="776.6" cy="844.6" r="5" fill="#1f9b61"/>
<circle cx="761.0" cy="840.1" r="4.4" fill="#1f9b61"/>
<circle cx="777.0" cy="832.8" r="4.4" fill="#1f9b61"/>
<circle cx="764.0" cy="825.4" r="5" fill="#1f9b61"/>
<circle cx="775.2" cy="820.0" r="5.9" fill="#1f9b61"/>
<circle cx="760.4" cy="810.8" r="5" fill="#1f9b61"/>
<circle cx="775.4" cy="804.0" r="5.1" fill="#1f9b61"/>
<circle cx="754.7" cy="802.3" r="4.3" fill="#1f9b61"/>
<circle cx="763.4" cy="795.1" r="4.4" fill="#1f9b61"/>
<circle cx="775.7" cy="792.1" r="4.3" fill="#1f9b61"/>
<circle cx="758.6" cy="787.1" r="4.3" fill="#1f9b61"/>
<circle cx="769.3" cy="784.8" r="4.3" fill="#1f9b61"/>
<circle cx="784.2" cy="787.1" r="4.4" fill="#1f9b61"/>
<circle cx="762.7" cy="775.9" r="5" fill="#1f9b61"/>
<circle cx="778.0" cy="775.9" r="5" fill="#1f9b61"/>
<circle cx="792.2" cy="778.3" r="4.4" fill="#1f9b61"/>
<circle cx="795.4" cy="793.0" r="4.4" fill="#1f9b61"/>
<circle cx="788.5" cy="803.1" r="4.4" fill="#1f9b61"/>
<circle cx="799.4" cy="809.5" r="4.4" fill="#1f9b61"/>
<circle cx="788.9" cy="816.8" r="5" fill="#1f9b61"/>
<circle cx="800.1" cy="822.9" r="5" fill="#1f9b61"/>
<circle cx="803.7" cy="784.5" r="4.4" fill="#1f9b61"/>
<circle cx="823.6" cy="860.9" r="6.2" fill="#1f9b61"/>
<circle cx="838.1" cy="865.4" r="4.4" fill="#1f9b61"/>
<circle cx="842.6" cy="856.5" r="4.4" fill="#1f9b61"/>
<circle cx="844.0" cy="844.6" r="5" fill="#1f9b61"/>
<circle cx="828.4" cy="840.1" r="4.4" fill="#1f9b61"/>
<circle cx="844.4" cy="832.8" r="4.4" fill="#1f9b61"/>
<circle cx="831.4" cy="825.4" r="5" fill="#1f9b61"/>
<circle cx="842.6" cy="820.0" r="5.9" fill="#1f9b61"/>
<circle cx="827.8" cy="810.8" r="5" fill="#1f9b61"/>
<circle cx="842.8" cy="804.0" r="5.1" fill="#1f9b61"/>
<circle cx="822.1" cy="802.3" r="4.3" fill="#1f9b61"/>
<circle cx="830.8" cy="795.1" r="4.4" fill="#1f9b61"/>
<circle cx="843.1" cy="792.1" r="4.3" fill="#1f9b61"/>
<circle cx="826.0" cy="787.1" r="4.3" fill="#1f9b61"/>
<circle cx="836.7" cy="784.8" r="4.3" fill="#1f9b61"/>
<circle cx="851.6" cy="787.1" r="4.4" fill="#1f9b61"/>
<circle cx="830.1" cy="775.9" r="5" fill="#1f9b61"/>
<circle cx="845.4" cy="775.9" r="5" fill="#1f9b61"/>
<circle cx="859.6" cy="778.3" r="4.4" fill="#1f9b61"/>
<circle cx="862.8" cy="793.0" r="4.4" fill="#1f9b61"/>
<circle cx="855.9" cy="803.1" r="4.4" fill="#1f9b61"/>
<circle cx="866.8" cy="809.5" r="4.4" fill="#1f9b61"/>
<circle cx="856.3" cy="816.8" r="5" fill="#1f9b61"/>
<circle cx="867.5" cy="822.9" r="5" fill="#1f9b61"/>
<g transform="translate(418.6 1031.2) rotate(29.7)"><path d="M-7.6 -7.6 A7.6 7.6 0 0 0 7.6 -7.6 V-97.5 Q7.6 -98.5 9.0 -98.5 Q10.5 -98.5 10.5 -100.0 V-103.0 Q10.5 -105.0 8.5 -105.0 H-8.5 Q-10.5 -105.0 -10.5 -103.0 V-100.0 Q-10.5 -98.5 -9.0 -98.5 Q-7.6 -98.5 -7.6 -97.5 Z" fill="#fff" stroke="#4a4a4c" stroke-width="0.9"/><path d="M-6.0 -19.7 V-7.6 A6.0 6.0 0 0 0 6.0 -7.6 V-19.7 Z" fill="#ea1f5e"/></g>
<circle cx="425.0" cy="1015.3" r="1.2" fill="#fcdde7"/>
<circle cx="427.2" cy="1019.5" r="1.1" fill="#fcdde7"/>
<circle cx="421.8" cy="1021.7" r="1.9" fill="#fcdde7"/>
<circle cx="421.8" cy="1026.7" r="1.1" fill="#fcdde7"/>
<g transform="translate(475.8 1031.2) rotate(29.7)"><path d="M-7.6 -7.6 A7.6 7.6 0 0 0 7.6 -7.6 V-97.5 Q7.6 -98.5 9.0 -98.5 Q10.5 -98.5 10.5 -100.0 V-103.0 Q10.5 -105.0 8.5 -105.0 H-8.5 Q-10.5 -105.0 -10.5 -103.0 V-100.0 Q-10.5 -98.5 -9.0 -98.5 Q-7.6 -98.5 -7.6 -97.5 Z" fill="#fff" stroke="#4a4a4c" stroke-width="0.9"/><path d="M-6.0 -41.9 V-7.6 A6.0 6.0 0 0 0 6.0 -7.6 V-41.9 Z" fill="#ea1f5e"/></g>
<circle cx="494.1" cy="997.3" r="1.2" fill="#fcdde7"/>
<circle cx="496.3" cy="1001.5" r="1.1" fill="#fcdde7"/>
<circle cx="490.9" cy="1003.7" r="1.9" fill="#fcdde7"/>
<circle cx="490.9" cy="1008.7" r="1.1" fill="#fcdde7"/>
<g transform="translate(532.9 1031.2) rotate(29.7)"><path d="M-7.6 -7.6 A7.6 7.6 0 0 0 7.6 -7.6 V-97.5 Q7.6 -98.5 9.0 -98.5 Q10.5 -98.5 10.5 -100.0 V-103.0 Q10.5 -105.0 8.5 -105.0 H-8.5 Q-10.5 -105.0 -10.5 -103.0 V-100.0 Q-10.5 -98.5 -9.0 -98.5 Q-7.6 -98.5 -7.6 -97.5 Z" fill="#fff" stroke="#4a4a4c" stroke-width="0.9"/><path d="M-6.0 -79.3 V-7.6 A6.0 6.0 0 0 0 6.0 -7.6 V-79.3 Z" fill="#ea1f5e"/></g>
<circle cx="564.7" cy="970.7" r="1.2" fill="#fcdde7"/>
<circle cx="566.9" cy="974.9" r="1.1" fill="#fcdde7"/>
<circle cx="561.5" cy="977.1" r="1.9" fill="#fcdde7"/>
<circle cx="561.5" cy="982.1" r="1.1" fill="#fcdde7"/>
<g transform="translate(590.0 1031.2) rotate(29.7)"><path d="M-7.6 -7.6 A7.6 7.6 0 0 0 7.6 -7.6 V-97.5 Q7.6 -98.5 9.0 -98.5 Q10.5 -98.5 10.5 -100.0 V-103.0 Q10.5 -105.0 8.5 -105.0 H-8.5 Q-10.5 -105.0 -10.5 -103.0 V-100.0 Q-10.5 -98.5 -9.0 -98.5 Q-7.6 -98.5 -7.6 -97.5 Z" fill="#fff" stroke="#4a4a4c" stroke-width="0.9"/><path d="M-6.0 -45.2 V-7.6 A6.0 6.0 0 0 0 6.0 -7.6 V-45.2 Z" fill="#ea1f5e"/></g>
<circle cx="605.3" cy="997.3" r="1.2" fill="#fcdde7"/>
<circle cx="607.5" cy="1001.5" r="1.1" fill="#fcdde7"/>
<circle cx="602.1" cy="1003.7" r="1.9" fill="#fcdde7"/>
<circle cx="602.1" cy="1008.7" r="1.1" fill="#fcdde7"/>
<g transform="translate(647.2 1031.2) rotate(29.7)"><path d="M-7.6 -7.6 A7.6 7.6 0 0 0 7.6 -7.6 V-97.5 Q7.6 -98.5 9.0 -98.5 Q10.5 -98.5 10.5 -100.0 V-103.0 Q10.5 -105.0 8.5 -105.0 H-8.5 Q-10.5 -105.0 -10.5 -103.0 V-100.0 Q-10.5 -98.5 -9.0 -98.5 Q-7.6 -98.5 -7.6 -97.5 Z" fill="#fff" stroke="#4a4a4c" stroke-width="0.9"/><path d="M-6.0 -83.4 V-7.6 A6.0 6.0 0 0 0 6.0 -7.6 V-83.4 Z" fill="#ea1f5e"/></g>
<circle cx="680.7" cy="966.0" r="1.2" fill="#fcdde7"/>
<circle cx="682.9" cy="970.2" r="1.1" fill="#fcdde7"/>
<circle cx="677.5" cy="972.4" r="1.9" fill="#fcdde7"/>
<circle cx="677.5" cy="977.4" r="1.1" fill="#fcdde7"/>
<g transform="translate(704.4 1031.2) rotate(29.7)"><path d="M-7.6 -7.6 A7.6 7.6 0 0 0 7.6 -7.6 V-97.5 Q7.6 -98.5 9.0 -98.5 Q10.5 -98.5 10.5 -100.0 V-103.0 Q10.5 -105.0 8.5 -105.0 H-8.5 Q-10.5 -105.0 -10.5 -103.0 V-100.0 Q-10.5 -98.5 -9.0 -98.5 Q-7.6 -98.5 -7.6 -97.5 Z" fill="#fff" stroke="#4a4a4c" stroke-width="0.9"/><path d="M-6.0 -86.8 V-7.6 A6.0 6.0 0 0 0 6.0 -7.6 V-86.8 Z" fill="#ea1f5e"/></g>
<circle cx="740.9" cy="962.0" r="1.2" fill="#fcdde7"/>
<circle cx="743.1" cy="966.2" r="1.1" fill="#fcdde7"/>
<circle cx="737.7" cy="968.4" r="1.9" fill="#fcdde7"/>
<circle cx="737.7" cy="973.4" r="1.1" fill="#fcdde7"/>
<g transform="translate(761.5 1031.2) rotate(29.7)"><path d="M-7.6 -7.6 A7.6 7.6 0 0 0 7.6 -7.6 V-97.5 Q7.6 -98.5 9.0 -98.5 Q10.5 -98.5 10.5 -100.0 V-103.0 Q10.5 -105.0 8.5 -105.0 H-8.5 Q-10.5 -105.0 -10.5 -103.0 V-100.0 Q-10.5 -98.5 -9.0 -98.5 Q-7.6 -98.5 -7.6 -97.5 Z" fill="#fff" stroke="#4a4a4c" stroke-width="0.9"/><path d="M-6.0 -87.7 V-7.6 A6.0 6.0 0 0 0 6.0 -7.6 V-87.7 Z" fill="#ea1f5e"/></g>
<circle cx="800.4" cy="957.7" r="1.2" fill="#fcdde7"/>
<circle cx="802.6" cy="961.9" r="1.1" fill="#fcdde7"/>
<circle cx="797.2" cy="964.1" r="1.9" fill="#fcdde7"/>
<circle cx="797.2" cy="969.1" r="1.1" fill="#fcdde7"/>
<g transform="translate(818.7 1031.2) rotate(29.7)"><path d="M-7.6 -7.6 A7.6 7.6 0 0 0 7.6 -7.6 V-97.5 Q7.6 -98.5 9.0 -98.5 Q10.5 -98.5 10.5 -100.0 V-103.0 Q10.5 -105.0 8.5 -105.0 H-8.5 Q-10.5 -105.0 -10.5 -103.0 V-100.0 Q-10.5 -98.5 -9.0 -98.5 Q-7.6 -98.5 -7.6 -97.5 Z" fill="#fff" stroke="#4a4a4c" stroke-width="0.9"/><path d="M-6.0 -96.5 V-7.6 A6.0 6.0 0 0 0 6.0 -7.6 V-96.5 Z" fill="#ea1f5e"/></g>
<circle cx="862.0" cy="950.7" r="1.2" fill="#fcdde7"/>
<circle cx="864.2" cy="954.9" r="1.1" fill="#fcdde7"/>
<circle cx="858.8" cy="957.1" r="1.9" fill="#fcdde7"/>
<circle cx="858.8" cy="962.1" r="1.1" fill="#fcdde7"/>
<polyline points="426.9,1206.7 485.0,1170.8 542.5,1151.2 600.0,1180.8 658.8,1148.7 716.3,1148.7 773.8,1143.5 829.9,1130.5" fill="none" stroke="#0768b3" stroke-width="2.3" stroke-linejoin="round"/>
<circle cx="426.9" cy="1206.7" r="3" fill="#0768b3"/>
<path d="M427.4 1202.5 C421.9 1192.5 413.5 1186.0 413.5 1175.0 A13.9 13.9 0 0 1 441.3 1175.0 C441.3 1186.0 432.9 1192.5 427.4 1202.5 Z" fill="#0768b3"/>
<circle cx="427.4" cy="1175.0" r="7" fill="#d9d9de"/>
<circle cx="485.0" cy="1170.8" r="3" fill="#0768b3"/>
<path d="M485.5 1166.6 C480.0 1156.6 471.6 1150.1 471.6 1139.1 A13.9 13.9 0 0 1 499.4 1139.1 C499.4 1150.1 491.0 1156.6 485.5 1166.6 Z" fill="#0768b3"/>
<circle cx="485.5" cy="1139.1" r="7" fill="#d9d9de"/>
<circle cx="542.5" cy="1151.2" r="3" fill="#0768b3"/>
<path d="M543.0 1147.0 C537.5 1137.0 529.1 1130.5 529.1 1119.5 A13.9 13.9 0 0 1 556.9 1119.5 C556.9 1130.5 548.5 1137.0 543.0 1147.0 Z" fill="#0768b3"/>
<circle cx="543.0" cy="1119.5" r="7" fill="#d9d9de"/>
<circle cx="600.0" cy="1180.8" r="3" fill="#0768b3"/>
<path d="M600.5 1176.6 C595.0 1166.6 586.6 1160.1 586.6 1149.1 A13.9 13.9 0 0 1 614.4 1149.1 C614.4 1160.1 606.0 1166.6 600.5 1176.6 Z" fill="#0768b3"/>
<circle cx="600.5" cy="1149.1" r="7" fill="#d9d9de"/>
<circle cx="658.8" cy="1148.7" r="3" fill="#0768b3"/>
<path d="M659.3 1144.5 C653.8 1134.5 645.4 1128.0 645.4 1117.0 A13.9 13.9 0 0 1 673.2 1117.0 C673.2 1128.0 664.8 1134.5 659.3 1144.5 Z" fill="#0768b3"/>
<circle cx="659.3" cy="1117.0" r="7" fill="#d9d9de"/>
<circle cx="716.3" cy="1148.7" r="3" fill="#0768b3"/>
<path d="M716.8 1144.5 C711.3 1134.5 702.9 1128.0 702.9 1117.0 A13.9 13.9 0 0 1 730.7 1117.0 C730.7 1128.0 722.3 1134.5 716.8 1144.5 Z" fill="#0768b3"/>
<circle cx="716.8" cy="1117.0" r="7" fill="#d9d9de"/>
<circle cx="773.8" cy="1143.5" r="3" fill="#0768b3"/>
<path d="M774.3 1139.3 C768.8 1129.3 760.4 1122.8 760.4 1111.8 A13.9 13.9 0 0 1 788.2 1111.8 C788.2 1122.8 779.8 1129.3 774.3 1139.3 Z" fill="#0768b3"/>
<circle cx="774.3" cy="1111.8" r="7" fill="#d9d9de"/>
<circle cx="829.9" cy="1130.5" r="3" fill="#0768b3"/>
<path d="M830.4 1126.3 C824.9 1116.3 816.5 1109.8 816.5 1098.8 A13.9 13.9 0 0 1 844.3 1098.8 C844.3 1109.8 835.9 1116.3 830.4 1126.3 Z" fill="#0768b3"/>
<circle cx="830.4" cy="1098.8" r="7" fill="#d9d9de"/>
<polygon points="63.8,1231.4 63.8,1145.6 98.2,1136.0 132.7,1133.7 167.1,1102.5 201.5,1088.3 235.9,1057.2 270.4,1047.7 304.8,1045.3 339.2,1054.9 339.2,1231.4" fill="#45b651"/>
<path transform="translate(201.8 1158.4)" d="M0 22.6 C-1.5 17 -6 14.6 -11.6 12.9 C-17 11 -21.3 8 -21.3 2 C-21.3 -3 -17.5 -6 -16 -10.3 C-15.5 -12.5 -17 -13.8 -19.9 -16 L-14.4 -22.5 Q-7.2 -16.7 0 -22.5 Q7.2 -16.7 14.4 -22.5 L19.9 -16 C17 -13.8 15.5 -12.5 16 -10.3 C17.5 -6 21.3 -3 21.3 2 C21.3 8 17 11 11.6 12.9 C6 14.6 1.5 17 0 22.6 Z" fill="#fff"/>
</svg>
<div class="t" style="left:54.40px;top:34.84px;font-size:33.5px;color:#111;transform:scaleX(0.7817);-webkit-text-stroke:0.35px #111">a<span style="font-size:24.3px;letter-spacing:1px">RP</span>a</div>
<div class="t" style="left:119.40px;top:42.63px;font-size:24.3px;color:#fff;transform:scaleX(0.7807)">FVG</div>
<div class="t" style="left:58.10px;top:68.65px;font-size:4.9px;color:#222;font-weight:700;transform:scaleX(0.9648)">agenzia regionale per la</div>
<div class="t" style="left:57.40px;top:74.35px;font-size:4.9px;color:#222;font-weight:700;transform:scaleX(0.9483)">protezione dell'ambiente</div>
<div class="t" style="left:60.30px;top:79.85px;font-size:4.9px;color:#222;font-weight:700;transform:scaleX(0.9830)">del friuli venezia giulia</div>
<div class="t" style="left:198.50px;top:71.55px;font-size:4.9px;color:#3a3a3a;font-weight:700;transform:scaleX(1.1291);font-style:italic">Sistema Nazionale</div>
<div class="t" style="left:190.00px;top:75.85px;font-size:4.9px;color:#3a3a3a;font-weight:700;transform:scaleX(1.2176);font-style:italic">per la Protezione</div>
<div class="t" style="left:206.00px;top:80.35px;font-size:4.9px;color:#3a3a3a;font-weight:700;transform:scaleX(1.1608);font-style:italic">dell'Ambiente</div>
<div class="t" style="left:54.90px;top:92.67px;font-size:50px;color:#0768b3;font-weight:700">MONITORAGGIO</div>
<div class="t" style="left:469.00px;top:92.67px;font-size:50px;color:#0768b3;font-weight:700;transform:scaleX(0.8523)">DELLE</div>
<div class="t" style="left:619.70px;top:92.67px;font-size:50px;color:#0768b3;font-weight:700;transform:scaleX(0.9326)">ACQUE</div>
<div class="t" style="left:51.60px;top:153.06px;font-size:40.8px;color:#df2466;font-weight:700;transform:scaleX(1.1899);-webkit-text-stroke:0.9px #df2466">2024</div>
<div class="t" style="left:176.00px;top:169.48px;font-size:21.4px;color:#0768b3;font-weight:700;transform:scaleX(0.9898);-webkit-text-stroke:0.3px #0768b3">RADDOPPIA IL NUMERO DI FARMACI E COSMETICI RICERCATI</div>
<div class="t" style="left:63.88px;top:503.59px;font-size:10.6px;color:#222;letter-spacing:0.45px">125</div>
<div class="t" style="left:60.70px;top:628.73px;font-size:11.3px;color:#58595b;transform:scaleX(1.0103)">2008</div>
<div class="t" style="left:99.18px;top:469.33px;font-size:10.6px;color:#222;letter-spacing:0.45px">166</div>
<div class="t" style="left:96.07px;top:628.73px;font-size:11.3px;color:#58595b;transform:scaleX(1.0103)">2009</div>
<div class="t" style="left:134.48px;top:445.94px;font-size:10.6px;color:#222;letter-spacing:0.45px">194</div>
<div class="t" style="left:131.44px;top:628.73px;font-size:11.3px;color:#58595b;transform:scaleX(1.0103)">2010</div>
<div class="t" style="left:169.78px;top:452.62px;font-size:10.6px;color:#222;letter-spacing:0.45px">186</div>
<div class="t" style="left:166.81px;top:628.73px;font-size:11.3px;color:#58595b;transform:scaleX(1.0454)">2011</div>
<div class="t" style="left:205.47px;top:431.74px;font-size:10.6px;color:#222;letter-spacing:0.45px">211</div>
<div class="t" style="left:202.18px;top:628.73px;font-size:11.3px;color:#58595b;transform:scaleX(1.0103)">2012</div>
<div class="t" style="left:240.38px;top:461.81px;font-size:10.6px;color:#222;letter-spacing:0.45px">175</div>
<div class="t" style="left:237.55px;top:628.73px;font-size:11.3px;color:#58595b;transform:scaleX(1.0103)">2013</div>
<div class="t" style="left:275.68px;top:426.72px;font-size:10.6px;color:#222;letter-spacing:0.45px">217</div>
<div class="t" style="left:272.92px;top:628.73px;font-size:11.3px;color:#58595b;transform:scaleX(1.0103)">2014</div>
<div class="t" style="left:310.98px;top:394.97px;font-size:10.6px;color:#222;letter-spacing:0.45px">255</div>
<div class="t" style="left:308.29px;top:628.73px;font-size:11.3px;color:#58595b;transform:scaleX(1.0103)">2015</div>
<div class="t" style="left:346.28px;top:361.55px;font-size:10.6px;color:#222;letter-spacing:0.45px">295</div>
<div class="t" style="left:343.66px;top:628.73px;font-size:11.3px;color:#58595b;transform:scaleX(1.0103)">2016</div>
<div class="t" style="left:381.58px;top:347.35px;font-size:10.6px;color:#222;letter-spacing:0.45px">312</div>
<div class="t" style="left:379.03px;top:628.73px;font-size:11.3px;color:#58595b;transform:scaleX(1.0103)">2017</div>
<div class="t" style="left:416.88px;top:329.81px;font-size:10.6px;color:#222;letter-spacing:0.45px">333</div>
<div class="t" style="left:414.40px;top:628.73px;font-size:11.3px;color:#58595b;transform:scaleX(1.0103)">2018</div>
<div class="t" style="left:452.18px;top:324.79px;font-size:10.6px;color:#222;letter-spacing:0.45px">339</div>
<div class="t" style="left:449.77px;top:628.73px;font-size:11.3px;color:#58595b;transform:scaleX(1.0103)">2019</div>
<div class="t" style="left:487.48px;top:323.12px;font-size:10.6px;color:#222;letter-spacing:0.45px">341</div>
<div class="t" style="left:485.14px;top:628.73px;font-size:11.3px;color:#58595b;transform:scaleX(1.0103)">2020</div>
<div class="t" style="left:522.78px;top:307.25px;font-size:10.6px;color:#222;letter-spacing:0.45px">360</div>
<div class="t" style="left:520.51px;top:628.73px;font-size:11.3px;color:#58595b;transform:scaleX(1.0103)">2021</div>
<div class="t" style="left:558.08px;top:285.52px;font-size:10.6px;color:#222;letter-spacing:0.45px">386</div>
<div class="t" style="left:555.88px;top:628.73px;font-size:11.3px;color:#58595b;transform:scaleX(1.0103)">2022</div>
<div class="t" style="left:593.38px;top:240.41px;font-size:10.6px;color:#222;letter-spacing:0.45px">440</div>
<div class="t" style="left:591.25px;top:628.73px;font-size:11.3px;color:#58595b;transform:scaleX(1.0103)">2023</div>
<div class="t" style="left:627.42px;top:199.29px;font-size:11.0px;color:#111;font-weight:700;letter-spacing:0.8px">490</div>
<div class="t" style="left:626.62px;top:628.73px;font-size:11.3px;color:#58595b;transform:scaleX(1.0103)">2024</div>
<div class="t" style="left:706.00px;top:206.41px;font-size:19.6px;color:#151515;font-weight:700;transform:scaleX(0.9661);-webkit-text-stroke:0.3px #151515">SI STUDIANO</div>
<div class="t" style="left:706.00px;top:229.06px;font-size:19.6px;color:#151515;font-weight:700;transform:scaleX(0.9063);-webkit-text-stroke:0.3px #151515">I BATTERI</div>
<div class="t" style="left:706.00px;top:251.71px;font-size:19.6px;color:#151515;font-weight:700;transform:scaleX(0.9579);-webkit-text-stroke:0.3px #151515">ANTIBIOTICO</div>
<div class="t" style="left:706.00px;top:274.36px;font-size:19.6px;color:#151515;font-weight:700;transform:scaleX(0.9142);-webkit-text-stroke:0.3px #151515">RESISTENTI</div>
<div class="t" style="left:730.00px;top:388.53px;font-size:11.9px;color:#5b5c5f;transform:scaleX(1.0245)">Tipizzanti</div>
<div class="t" style="left:730.00px;top:408.65px;font-size:11.9px;color:#5b5c5f;transform:scaleX(1.0260)">Antibiotico resistenti</div>
<div class="t" style="left:730.00px;top:428.77px;font-size:11.9px;color:#5b5c5f;transform:scaleX(0.9837)">Farmaci e cosmetici</div>
<div class="t" style="left:730.00px;top:448.89px;font-size:11.9px;color:#5b5c5f;transform:scaleX(0.9750)">Cloroalcani</div>
<div class="t" style="left:730.00px;top:469.01px;font-size:11.9px;color:#5b5c5f">Ritardanti Fiamma</div>
<div class="t" style="left:730.00px;top:489.13px;font-size:11.9px;color:#5b5c5f;transform:scaleX(0.9702)">PFAS</div>
<div class="t" style="left:730.00px;top:509.25px;font-size:11.9px;color:#5b5c5f;transform:scaleX(0.9936)">Pesticidi</div>
<div class="t" style="left:730.00px;top:529.37px;font-size:11.9px;color:#5b5c5f;transform:scaleX(1.0064)">Nanoparticelle</div>
<div class="t" style="left:730.00px;top:549.49px;font-size:11.9px;color:#5b5c5f">Metalli</div>
<div class="t" style="left:730.00px;top:569.61px;font-size:11.9px;color:#5b5c5f;transform:scaleX(0.9838)">IPA</div>
<div class="t" style="left:730.00px;top:589.73px;font-size:11.9px;color:#5b5c5f">Ftalati</div>
<div class="t" style="left:730.00px;top:609.85px;font-size:11.9px;color:#5b5c5f;transform:scaleX(0.9571)">Fenoli</div>
<div class="t" style="left:730.00px;top:629.97px;font-size:11.9px;color:#5b5c5f;transform:scaleX(0.9697)">COV</div>
<div class="t" style="left:65.50px;top:668.10px;font-size:14.3px;color:#4e4e51;transform:scaleX(1.0554)">La direttiva UE 2024/3019 sulle acque</div>
<div class="t" style="left:65.50px;top:686.60px;font-size:14.3px;color:#4e4e51;transform:scaleX(1.0479)">reflue individua come microinquinanti</div>
<div class="t" style="left:65.50px;top:704.90px;font-size:14.3px;color:#4e4e51;transform:scaleX(1.0315)">i residui di farmaci e cosmetici e</div>
<div class="t" style="left:65.50px;top:723.10px;font-size:14.3px;color:#4e4e51;transform:scaleX(1.0484)">riconosce l’importanza di affrontare</div>
<div class="t" style="left:65.50px;top:741.30px;font-size:14.3px;color:#4e4e51;transform:scaleX(1.0327)">il problema della resistenza agli</div>
<div class="t" style="left:65.50px;top:759.50px;font-size:14.3px;color:#4e4e51;transform:scaleX(1.0249)">antimicrobici.</div>
<div class="t" style="left:65.50px;top:786.30px;font-size:14.3px;color:#4e4e51;transform:scaleX(1.0445)">Per questo Arpa FVG ha implementato</div>
<div class="t" style="left:65.50px;top:804.50px;font-size:14.3px;color:#4e4e51;transform:scaleX(1.0311)">il numero di sostanze ricercate in</div>
<div class="t" style="left:65.50px;top:822.70px;font-size:14.3px;color:#4e4e51;transform:scaleX(1.0345)">specifici punti di scarico, e nei relativi</div>
<div class="t" style="left:65.50px;top:840.90px;font-size:14.3px;color:#4e4e51;transform:scaleX(1.0490)">corpi recettori, effettuando anche</div>
<div class="t" style="left:65.50px;top:859.10px;font-size:14.3px;color:#4e4e51;transform:scaleX(1.0408)">il sequenziamento batterico con la</div>
<div class="t" style="left:65.50px;top:877.30px;font-size:14.3px;color:#4e4e51;transform:scaleX(1.0224)">tecnica innovativa NGS.</div>
<div class="t" style="left:495.50px;top:678.03px;font-size:23px;color:#fff;font-weight:700;transform:scaleX(1.0080)">INQUINANTI EMERGENTI</div>
<div class="t" style="left:414.60px;top:715.81px;font-size:24.2px;color:#0768b3;font-weight:700;transform:scaleX(0.9211);-webkit-text-stroke:0.3px #0768b3">PFAS</div>
<div class="t" style="left:414.80px;top:747.78px;font-size:15.5px;color:#151515;font-weight:700;transform:scaleX(0.9878);-webkit-text-stroke:0.25px #151515">NEL 2024 AUMENTANO I CAMPIONI E I PUNTI DI PFAS</div>
<div class="t" style="left:422.26px;top:847.44px;font-size:12px;color:#111;font-weight:700">7</div>
<div class="t" style="left:413.20px;top:878.52px;font-size:11.2px;color:#58595b">2017</div>
<div class="t" style="left:475.82px;top:847.44px;font-size:12px;color:#111;font-weight:700">10</div>
<div class="t" style="left:470.10px;top:878.52px;font-size:11.2px;color:#58595b">2018</div>
<div class="t" style="left:532.72px;top:847.44px;font-size:12px;color:#111;font-weight:700">12</div>
<div class="t" style="left:527.00px;top:878.52px;font-size:11.2px;color:#58595b">2019</div>
<div class="t" style="left:589.32px;top:847.44px;font-size:12px;color:#111;font-weight:700">18</div>
<div class="t" style="left:583.60px;top:878.52px;font-size:11.2px;color:#58595b">2020</div>
<div class="t" style="left:646.62px;top:847.44px;font-size:12px;color:#111;font-weight:700">21</div>
<div class="t" style="left:640.40px;top:878.52px;font-size:11.2px;color:#58595b">2021</div>
<div class="t" style="left:702.72px;top:847.44px;font-size:12px;color:#111;font-weight:700">21</div>
<div class="t" style="left:697.00px;top:878.52px;font-size:11.2px;color:#58595b">2022</div>
<div class="t" style="left:760.02px;top:847.44px;font-size:12px;color:#111;font-weight:700">25</div>
<div class="t" style="left:754.30px;top:878.52px;font-size:11.2px;color:#58595b">2023</div>
<div class="t" style="left:827.22px;top:847.44px;font-size:12px;color:#111;font-weight:700">25</div>
<div class="t" style="left:816.50px;top:878.52px;font-size:11.2px;color:#58595b">2024</div>
<div class="t" style="left:414.80px;top:914.88px;font-size:15.5px;color:#151515;font-weight:700;transform:scaleX(0.9922);-webkit-text-stroke:0.25px #151515">CAMPIONI ANALIZZATI</div>
<div class="t g" style="left:424.38px;top:999.67px;font-size:12.2px;color:#111;font-weight:700;letter-spacing:0.5px">154</div>
<div class="t" style="left:413.10px;top:1036.72px;font-size:11.2px;color:#58595b">2017</div>
<div class="t g" style="left:486.28px;top:983.47px;font-size:12.2px;color:#111;font-weight:700;letter-spacing:0.5px">370</div>
<div class="t" style="left:470.76px;top:1036.72px;font-size:11.2px;color:#58595b">2018</div>
<div class="t g" style="left:566.08px;top:951.57px;font-size:12.2px;color:#111;font-weight:700;letter-spacing:0.5px">650</div>
<div class="t" style="left:528.42px;top:1036.72px;font-size:11.2px;color:#58595b">2019</div>
<div class="t g" style="left:607.68px;top:977.97px;font-size:12.2px;color:#111;font-weight:700;letter-spacing:0.5px">374</div>
<div class="t" style="left:586.08px;top:1036.72px;font-size:11.2px;color:#58595b">2020</div>
<div class="t g" style="left:681.88px;top:944.87px;font-size:12.2px;color:#111;font-weight:700;letter-spacing:0.5px">712</div>
<div class="t" style="left:643.74px;top:1036.72px;font-size:11.2px;color:#58595b">2021</div>
<div class="t g" style="left:742.08px;top:942.67px;font-size:12.2px;color:#111;font-weight:700;letter-spacing:0.5px">730</div>
<div class="t" style="left:701.40px;top:1036.72px;font-size:11.2px;color:#58595b">2022</div>
<div class="t g" style="left:797.08px;top:941.87px;font-size:12.2px;color:#111;font-weight:700;letter-spacing:0.5px">748</div>
<div class="t" style="left:759.06px;top:1036.72px;font-size:11.2px;color:#58595b">2023</div>
<div class="t g" style="left:859.08px;top:935.17px;font-size:12.2px;color:#111;font-weight:700;letter-spacing:0.5px">823</div>
<div class="t" style="left:816.72px;top:1036.72px;font-size:11.2px;color:#58595b">2024</div>
<div class="t" style="left:414.80px;top:1084.08px;font-size:15.5px;color:#151515;font-weight:700;transform:scaleX(1.0133);-webkit-text-stroke:0.25px #151515">PUNTI MONITORATI</div>
<div class="t g" style="left:431.18px;top:1210.59px;font-size:12.3px;color:#111;font-weight:700;letter-spacing:0.4px">114</div>
<div class="t" style="left:413.50px;top:1231.82px;font-size:11.2px;color:#58595b">2017</div>
<div class="t g" style="left:475.14px;top:1177.39px;font-size:12.3px;color:#111;font-weight:700;letter-spacing:0.4px">244</div>
<div class="t" style="left:471.60px;top:1231.82px;font-size:11.2px;color:#58595b">2018</div>
<div class="t g" style="left:532.14px;top:1157.89px;font-size:12.3px;color:#111;font-weight:700;letter-spacing:0.4px">315</div>
<div class="t" style="left:529.10px;top:1231.82px;font-size:11.2px;color:#58595b">2019</div>
<div class="t g" style="left:589.74px;top:1183.99px;font-size:12.3px;color:#111;font-weight:700;letter-spacing:0.4px">208</div>
<div class="t" style="left:586.60px;top:1231.82px;font-size:11.2px;color:#58595b">2020</div>
<div class="t g" style="left:647.04px;top:1157.49px;font-size:12.3px;color:#111;font-weight:700;letter-spacing:0.4px">324</div>
<div class="t" style="left:645.40px;top:1231.82px;font-size:11.2px;color:#58595b">2021</div>
<div class="t g" style="left:704.24px;top:1158.09px;font-size:12.3px;color:#111;font-weight:700;letter-spacing:0.4px">324</div>
<div class="t" style="left:702.90px;top:1231.82px;font-size:11.2px;color:#58595b">2022</div>
<div class="t g" style="left:761.84px;top:1152.29px;font-size:12.3px;color:#111;font-weight:700;letter-spacing:0.4px">343</div>
<div class="t" style="left:760.40px;top:1231.82px;font-size:11.2px;color:#58595b">2023</div>
<div class="t g" style="left:819.04px;top:1143.29px;font-size:12.3px;color:#111;font-weight:700;letter-spacing:0.4px">390</div>
<div class="t" style="left:816.50px;top:1231.82px;font-size:11.2px;color:#58595b">2024</div>
<div class="t" style="left:63.40px;top:973.42px;font-size:23.6px;color:#0768b3;font-weight:700;transform:scaleX(0.9478);-webkit-text-stroke:0.3px #0768b3">ACCREDITAMENTI</div>
<div class="t" style="left:63.60px;top:1015.97px;font-size:14.8px;color:#151515;font-weight:700;transform:scaleX(0.9669);-webkit-text-stroke:0.25px #151515">PERCENTUALE DI</div>
<div class="t" style="left:63.60px;top:1033.07px;font-size:14.8px;color:#151515;font-weight:700;transform:scaleX(1.0569);-webkit-text-stroke:0.25px #151515">CONTAMINANTI</div>
<div class="t" style="left:63.60px;top:1050.17px;font-size:14.8px;color:#151515;font-weight:700;transform:scaleX(1.0103);-webkit-text-stroke:0.25px #151515">ACCREDITATI</div>
<div class="t" style="left:54.70px;top:1132.28px;font-size:11.6px;color:#111;font-weight:700;transform:scaleX(1.1198)">36%</div>
<div class="t" style="left:52.60px;top:1233.62px;font-size:11.2px;color:#58595b">2016</div>
<div class="t" style="left:89.00px;top:1124.08px;font-size:11.6px;color:#111;font-weight:700;transform:scaleX(1.1198)">40%</div>
<div class="t" style="left:87.26px;top:1233.62px;font-size:11.2px;color:#58595b">2017</div>
<div class="t" style="left:123.20px;top:1116.68px;font-size:11.6px;color:#111;font-weight:700;transform:scaleX(1.1198)">41%</div>
<div class="t" style="left:121.92px;top:1233.62px;font-size:11.2px;color:#58595b">2018</div>
<div class="t" style="left:157.00px;top:1090.28px;font-size:11.6px;color:#111;font-weight:700;transform:scaleX(1.1198)">55%</div>
<div class="t" style="left:157.38px;top:1233.62px;font-size:11.2px;color:#58595b">2019</div>
<div class="t" style="left:191.20px;top:1081.28px;font-size:11.6px;color:#111;font-weight:700;transform:scaleX(1.1198)">60%</div>
<div class="t" style="left:192.04px;top:1233.62px;font-size:11.2px;color:#58595b">2020</div>
<div class="t" style="left:225.10px;top:1044.68px;font-size:11.6px;color:#111;font-weight:700;transform:scaleX(1.1198)">73%</div>
<div class="t" style="left:226.70px;top:1233.62px;font-size:11.2px;color:#58595b">2021</div>
<div class="t" style="left:258.90px;top:1031.88px;font-size:11.6px;color:#111;font-weight:700;transform:scaleX(1.1198)">77%</div>
<div class="t" style="left:261.36px;top:1233.62px;font-size:11.2px;color:#58595b">2022</div>
<div class="t" style="left:292.40px;top:1028.78px;font-size:11.6px;color:#111;font-weight:700;transform:scaleX(1.1198)">78%</div>
<div class="t" style="left:296.02px;top:1233.62px;font-size:11.2px;color:#58595b">2023</div>
<div class="t" style="left:327.00px;top:1037.68px;font-size:11.6px;color:#111;font-weight:700;transform:scaleX(1.1198)">74%</div>
<div class="t" style="left:329.88px;top:1233.62px;font-size:11.2px;color:#58595b">2024</div>
</body></html>
